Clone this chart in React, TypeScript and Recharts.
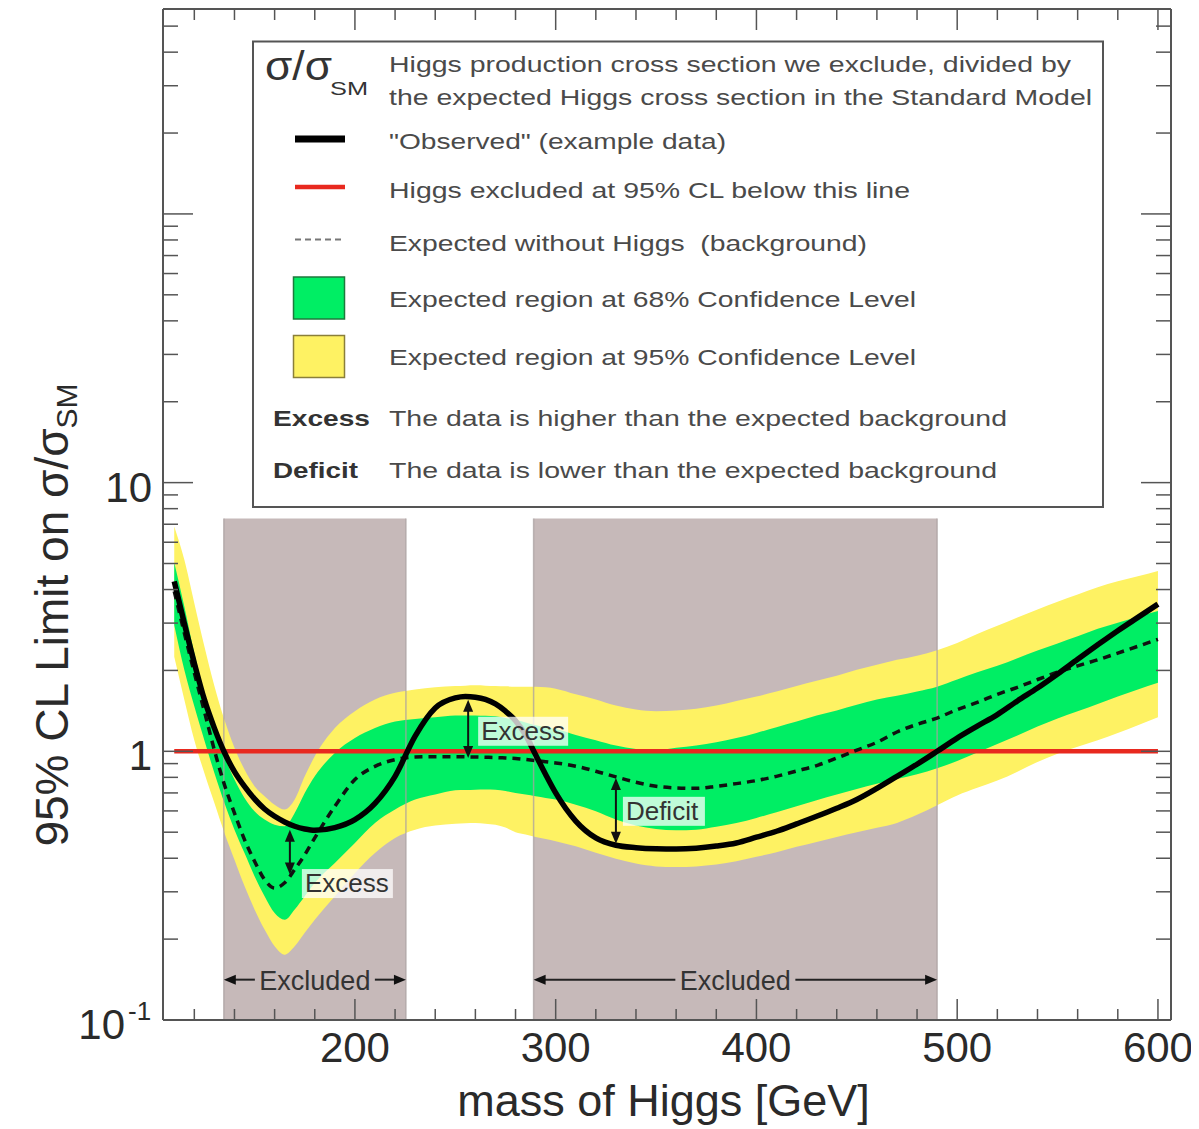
import React from 'react';
import {
  ComposedChart,
  Area,
  Line,
  XAxis,
  YAxis,
  ReferenceArea,
  ReferenceLine,
} from 'recharts';

// mass points (GeV) and the limits read at each of them
const MASS = [
  110, 115, 120, 125, 130, 135, 140, 145, 150, 155, 160, 165, 170, 175, 180,
  190, 200, 210, 220, 230, 240, 250, 255, 260, 265, 270, 275, 280, 285, 290,
  295, 300, 310, 320, 330, 340, 350, 360, 370, 380, 390, 400, 410, 420, 430,
  440, 450, 460, 470, 480, 490, 500, 510, 520, 530, 540, 550, 560, 570, 580,
  590, 600,
];

const OBSERVED = [
  4.29, 3.0, 2.13, 1.56, 1.22, 0.99, 0.84, 0.74, 0.665, 0.61, 0.573, 0.546, 0.526, 0.514, 0.508,
  0.52, 0.557, 0.64, 0.807, 1.14, 1.45, 1.58, 1.6, 1.59, 1.56, 1.5, 1.41, 1.3, 1.15, 0.97,
  0.82, 0.7, 0.55, 0.476, 0.447, 0.438, 0.434, 0.433, 0.436, 0.444, 0.456, 0.479, 0.504, 0.537, 0.573,
  0.614, 0.662, 0.728, 0.807, 0.895, 1.0, 1.12, 1.24, 1.37, 1.54, 1.72, 1.94, 2.2, 2.49, 2.81,
  3.15, 3.53,
];

const EXPECTED = [
  3.94, 2.76, 1.96, 1.41, 1.01, 0.751, 0.589, 0.469, 0.39, 0.333, 0.31, 0.324, 0.363, 0.412, 0.476,
  0.624, 0.785, 0.879, 0.931, 0.952, 0.955, 0.955, 0.954, 0.952, 0.95, 0.948, 0.944, 0.94, 0.932, 0.923,
  0.914, 0.905, 0.88, 0.843, 0.803, 0.767, 0.741, 0.731, 0.728, 0.741, 0.758, 0.778, 0.807, 0.845, 0.885,
  0.944, 1.01, 1.08, 1.18, 1.26, 1.33, 1.43, 1.52, 1.63, 1.73, 1.85, 1.97, 2.08, 2.19, 2.32,
  2.46, 2.61,
];

const BAND68_HIGH = [
  5.04, 3.47, 2.32, 1.65, 1.24, 0.958, 0.785, 0.67, 0.598, 0.557, 0.533, 0.526, 0.59, 0.7, 0.807,
  0.986, 1.12, 1.22, 1.29, 1.32, 1.34, 1.36, 1.36, 1.36, 1.355, 1.35, 1.33, 1.31, 1.28, 1.25,
  1.23, 1.21, 1.15, 1.1, 1.05, 1.02, 1.01, 1.03, 1.05, 1.08, 1.12, 1.17, 1.23, 1.29, 1.36,
  1.42, 1.49, 1.56, 1.61, 1.67, 1.74, 1.85, 1.97, 2.08, 2.22, 2.37, 2.52, 2.68, 2.86, 3.01,
  3.17, 3.33,
];

const BAND68_LOW = [
  2.95, 2.01, 1.47, 1.1, 0.83, 0.642, 0.511, 0.418, 0.343, 0.289, 0.25, 0.236, 0.258, 0.289, 0.324,
  0.384, 0.456, 0.541, 0.607, 0.661, 0.69, 0.716, 0.718, 0.72, 0.721, 0.72, 0.712, 0.7, 0.69, 0.68,
  0.67, 0.661, 0.633, 0.598, 0.557, 0.529, 0.514, 0.508, 0.511, 0.524, 0.541, 0.565, 0.593, 0.624, 0.658,
  0.69, 0.724, 0.758, 0.789, 0.821, 0.865, 0.92, 0.99, 1.065, 1.146, 1.236, 1.325, 1.41, 1.5, 1.6,
  1.7, 1.8,
];

const BAND95_HIGH = [
  6.86, 5.17, 3.56, 2.46, 1.75, 1.31, 1.03, 0.855, 0.741, 0.681, 0.633, 0.607, 0.661, 0.807, 0.958,
  1.22, 1.41, 1.56, 1.65, 1.7, 1.73, 1.75, 1.755, 1.76, 1.755, 1.75, 1.745, 1.74, 1.74, 1.74,
  1.73, 1.71, 1.63, 1.56, 1.48, 1.43, 1.41, 1.42, 1.44, 1.48, 1.54, 1.6, 1.67, 1.75, 1.83,
  1.91, 2.01, 2.1, 2.19, 2.27, 2.38, 2.53, 2.73, 2.93, 3.15, 3.37, 3.6, 3.83, 4.08, 4.29,
  4.48, 4.69,
];

const BAND95_LOW = [
  2.25, 1.56, 1.1, 0.83, 0.642, 0.497, 0.395, 0.315, 0.258, 0.217, 0.188, 0.175, 0.188, 0.211, 0.236,
  0.289, 0.352, 0.418, 0.476, 0.511, 0.529, 0.538, 0.54, 0.541, 0.538, 0.533, 0.52, 0.5, 0.49, 0.48,
  0.472, 0.463, 0.443, 0.419, 0.398, 0.382, 0.373, 0.371, 0.373, 0.379, 0.39, 0.405, 0.421, 0.441, 0.46,
  0.48, 0.5, 0.519, 0.541, 0.58, 0.63, 0.685, 0.731, 0.778, 0.84, 0.913, 0.98, 1.04, 1.1, 1.17,
  1.25, 1.34,
];

const X_TICKS = [
  120, 140, 160, 180, 200, 220, 240, 260, 280, 300, 320, 340, 360, 380, 400,
  420, 440, 460, 480, 500, 520, 540, 560, 580, 600,
];
const X_LABELED = [200, 300, 400, 500, 600];

const Y_TICKS = [
  0.1, 0.2, 0.3, 0.4, 0.5, 0.6, 0.7, 0.8, 0.9,
  1, 2, 3, 4, 5, 6, 7, 8, 9,
  10, 20, 30, 40, 50, 60, 70, 80, 90,
  100, 200, 300, 400, 500,
];
const Y_LABEL_VALUES = [0.1, 1, 10];
const Y_LABEL_BASE = ['10', '1', '10'];
const Y_LABEL_EXP = ['-1', '', ''];

// grey excluded regions
const EXCLUDED_FROM = [134.7, 289];
const EXCLUDED_TO = [225.4, 490];
const EXCLUDED_TOP = 7.35;
const EXCLUDED_ARROW_LEVEL = 0.1413;

// the 95% CL line
const LIMIT_LEVEL = 1;
const LIMIT_FROM = 110;
const LIMIT_TO = 600;

// excess / deficit arrows
const NOTE_LABELS = ['Excess', 'Excess', 'Deficit'];
const NOTE_MASS = [167.6, 256.4, 330];
const NOTE_TOP = [0.511, 1.557, 0.796];
const NOTE_BOTTOM = [0.348, 0.945, 0.453];

const data = MASS.map((m, i) => ({
  mass: m,
  observed: OBSERVED[i],
  expected: EXPECTED[i],
  band68: [BAND68_LOW[i], BAND68_HIGH[i]],
  band95: [BAND95_LOW[i], BAND95_HIGH[i]],
}));

const FONT = '"Liberation Sans", Arial, Helvetica, sans-serif';
const FRAME = '#555';
const INK = '#2a2a2a';
const YELLOW = '#fef263';
const GREEN = '#00ee64';
const GREY = '#c6b9b9';
const RED = '#e8291f';

const X_DOMAIN: [number, number] = [104.4, 606.5];
const Y_DOMAIN: [number, number] = [0.1, 579];

const isDecade = (v: number) =>
  Math.abs(Math.log10(v) - Math.round(Math.log10(v))) < 1e-6;

const BottomTick = (props: any) => {
  const { x, y, payload } = props;
  const major = payload.value % 100 === 0;
  return (
    <g>
      <line x1={x} x2={x} y1={y} y2={y - (major ? 21 : 11)} stroke={FRAME} strokeWidth={1.5} />
      {X_LABELED.includes(payload.value) && (
        <text x={x} y={y + 42} textAnchor="middle" fontSize={42} fill={INK} fontFamily={FONT}>
          {payload.value}
        </text>
      )}
    </g>
  );
};

const TopTick = (props: any) => {
  const { x, y, payload } = props;
  const major = payload.value % 100 === 0;
  return <line x1={x} x2={x} y1={y} y2={y + (major ? 21 : 11)} stroke={FRAME} strokeWidth={1.5} />;
};

const LeftTick = (props: any) => {
  const { x, y, payload } = props;
  const major = isDecade(payload.value);
  const idx = Y_LABEL_VALUES.indexOf(payload.value);
  return (
    <g>
      <line x1={x} x2={x + (major ? 30 : 15)} y1={y} y2={y} stroke={FRAME} strokeWidth={1.5} />
      {idx >= 0 && Y_LABEL_EXP[idx] === '' && (
        <text x={x - 11} y={y + 19} textAnchor="end" fontSize={42} fill={INK} fontFamily={FONT}>
          {Y_LABEL_BASE[idx]}
        </text>
      )}
      {idx >= 0 && Y_LABEL_EXP[idx] !== '' && (
        <text x={x - 38} y={y + 19} textAnchor="end" fontSize={42} fill={INK} fontFamily={FONT}>
          {Y_LABEL_BASE[idx]}
          <tspan x={x - 35} y={y} textAnchor="start" fontSize={26}>
            {Y_LABEL_EXP[idx]}
          </tspan>
        </text>
      )}
    </g>
  );
};

const RightTick = (props: any) => {
  const { x, y, payload } = props;
  const major = isDecade(payload.value);
  return <line x1={x} x2={x - (major ? 30 : 15)} y1={y} y2={y} stroke={FRAME} strokeWidth={1.5} />;
};

const head = (x: number, y: number, dir: string, len = 12, half = 5) => {
  let pts = '';
  if (dir === 'up') pts = `${x},${y} ${x - half},${y + len} ${x + half},${y + len}`;
  if (dir === 'down') pts = `${x},${y} ${x - half},${y - len} ${x + half},${y - len}`;
  if (dir === 'left') pts = `${x},${y} ${x + len},${y - half} ${x + len},${y + half}`;
  if (dir === 'right') pts = `${x},${y} ${x - len},${y - half} ${x - len},${y + half}`;
  return <polygon points={pts} fill="#111" />;
};

// label box placement next to each arrow
const NOTE_STYLE = [
  { dx: 12, dy: 17, w: 91 },
  { dx: 10, dy: -12, w: 90 },
  { dx: 7, dy: -14, w: 82 },
];

const noteShape = (i: number) => (p: any) => {
  const top = Math.min(p.y1, p.y2);
  const bottom = Math.max(p.y1, p.y2);
  const x = p.x1;
  const mid = (top + bottom) / 2;
  const s = NOTE_STYLE[i];
  return (
    <g>
      <line x1={x} x2={x} y1={top + 8} y2={bottom - 8} stroke="#111" strokeWidth={2} />
      {head(x, top, 'up')}
      {head(x, bottom, 'down')}
      <rect x={x + s.dx} y={mid + s.dy} width={s.w} height={29} fill="rgba(255,255,255,0.75)" />
      <text x={x + s.dx + 3} y={mid + s.dy + 23} fontSize={26} fill="#333" fontFamily={FONT}>
        {NOTE_LABELS[i]}
      </text>
    </g>
  );
};

const excludedShape = (p: any) => {
  const left = Math.min(p.x1, p.x2);
  const right = Math.max(p.x1, p.x2);
  const y = p.y1;
  const c = (left + right) / 2;
  const half = 60;
  return (
    <g>
      <line x1={left + 8} x2={c - half} y1={y} y2={y} stroke="#222" strokeWidth={2} />
      <line x1={c + half} x2={right - 8} y1={y} y2={y} stroke="#222" strokeWidth={2} />
      {head(left, y, 'left')}
      {head(right, y, 'right')}
      <text x={c} y={y + 10} textAnchor="middle" fontSize={27} fill="#333" fontFamily={FONT}>
        Excluded
      </text>
    </g>
  );
};

const LegendAndTitles = () => (
  <svg
    width={1191}
    height={1121}
    style={{ position: 'absolute', left: 0, top: 0, overflow: 'visible', pointerEvents: 'none' }}
    fontFamily={FONT}
  >
    <rect x={245} y={33.5} width={850} height={465.5} fill="#fff" stroke={FRAME} strokeWidth={2} />
    <text x={257} y={72} fontSize={40} fill="#333" textLength={67} lengthAdjust="spacingAndGlyphs">
      σ/σ
    </text>
    <text x={322} y={87} fontSize={18} fill="#333" textLength={38} lengthAdjust="spacingAndGlyphs">
      SM
    </text>
    <g fontSize={22} fill="#4a4a4a">
      <text x={381} y={63.5} textLength={682} lengthAdjust="spacingAndGlyphs">
        Higgs production cross section we exclude, divided by
      </text>
      <text x={381} y={96.5} textLength={703} lengthAdjust="spacingAndGlyphs">
        the expected Higgs cross section in the Standard Model
      </text>
      <text x={381} y={141} textLength={337} lengthAdjust="spacingAndGlyphs">
        "Observed" (example data)
      </text>
      <text x={381} y={189.5} textLength={521} lengthAdjust="spacingAndGlyphs">
        Higgs excluded at 95% CL below this line
      </text>
      <text x={381} y={243} textLength={478} lengthAdjust="spacingAndGlyphs" style={{ whiteSpace: 'pre' }}>
        {'Expected without Higgs  (background)'}
      </text>
      <text x={381} y={298.5} textLength={527} lengthAdjust="spacingAndGlyphs">
        Expected region at 68% Confidence Level
      </text>
      <text x={381} y={356.5} textLength={527} lengthAdjust="spacingAndGlyphs">
        Expected region at 95% Confidence Level
      </text>
      <text x={265} y={417.5} fontWeight="bold" fill="#333" textLength={97} lengthAdjust="spacingAndGlyphs">
        Excess
      </text>
      <text x={381} y={417.5} textLength={618} lengthAdjust="spacingAndGlyphs">
        The data is higher than the expected background
      </text>
      <text x={265} y={469.5} fontWeight="bold" fill="#333" textLength={85} lengthAdjust="spacingAndGlyphs">
        Deficit
      </text>
      <text x={381} y={469.5} textLength={608} lengthAdjust="spacingAndGlyphs">
        The data is lower than the expected background
      </text>
    </g>
    <line x1={287} x2={337} y1={131} y2={131} stroke="#000" strokeWidth={7} />
    <line x1={287} x2={337} y1={179} y2={179} stroke={RED} strokeWidth={4.5} />
    <line x1={287} x2={337} y1={231.5} y2={231.5} stroke="#777" strokeWidth={2} strokeDasharray="6 4" />
    <rect x={285.5} y={269} width={51} height={42} fill={GREEN} stroke="#1d7a3c" strokeWidth={1.5} />
    <rect x={285.5} y={327.5} width={51} height={42} fill={YELLOW} stroke="#8a7f3a" strokeWidth={1.5} />

    <text x={655.5} y={1108} textAnchor="middle" fontSize={45} fill={INK}>
      mass of Higgs [GeV]
    </text>
    <text transform="translate(60,607) rotate(-90)" textAnchor="middle" fontSize={46} fill={INK}>
      95% CL Limit on σ/σ
      <tspan fontSize={30} dy={9}>
        SM
      </tspan>
    </text>
  </svg>
);

export default function App() {
  return (
    <div style={{ position: 'relative', width: 1191, height: 1121, fontFamily: FONT }}>
      <ComposedChart
        width={1191}
        height={1121}
        data={data}
        margin={{ top: 0, right: 27, bottom: 0, left: 0 }}
      >
        <XAxis
          dataKey="mass"
          type="number"
          domain={X_DOMAIN}
          allowDataOverflow
          ticks={X_TICKS}
          interval={0}
          tickSize={0}
          tickMargin={0}
          tickLine={false}
          tick={<BottomTick />}
          height={109}
          axisLine={{ stroke: FRAME, strokeWidth: 2 }}
        />
        <XAxis
          xAxisId="top"
          orientation="top"
          dataKey="mass"
          type="number"
          domain={X_DOMAIN}
          allowDataOverflow
          ticks={X_TICKS}
          interval={0}
          tickSize={0}
          tickMargin={0}
          tickLine={false}
          tick={<TopTick />}
          height={1}
          axisLine={{ stroke: FRAME, strokeWidth: 2 }}
        />
        <YAxis
          type="number"
          scale="log"
          domain={Y_DOMAIN}
          allowDataOverflow
          ticks={Y_TICKS}
          interval={0}
          tickSize={0}
          tickMargin={0}
          tickLine={false}
          tick={<LeftTick />}
          width={155}
          axisLine={{ stroke: FRAME, strokeWidth: 2 }}
        />
        <YAxis
          yAxisId="right"
          orientation="right"
          type="number"
          scale="log"
          domain={Y_DOMAIN}
          allowDataOverflow
          ticks={Y_TICKS}
          interval={0}
          tickSize={0}
          tickMargin={0}
          tickLine={false}
          tick={<RightTick />}
          width={1}
          axisLine={{ stroke: FRAME, strokeWidth: 2 }}
        />

        {EXCLUDED_FROM.map((from, i) => (
          <ReferenceArea
            key={`ex-${i}`}
            x1={from}
            x2={EXCLUDED_TO[i]}
            y1={Y_DOMAIN[0]}
            y2={EXCLUDED_TOP}
            fill={GREY}
            fillOpacity={1}
            stroke="none"
          />
        ))}

        <Area
          dataKey="band95"
          type="monotone"
          fill={YELLOW}
          fillOpacity={1}
          stroke="none"
          isAnimationActive={false}
        />
        <Area
          dataKey="band68"
          type="monotone"
          fill={GREEN}
          fillOpacity={1}
          stroke="none"
          isAnimationActive={false}
        />

        {EXCLUDED_FROM.concat(EXCLUDED_TO).map((edge, i) => (
          <ReferenceLine
            key={`edge-${i}`}
            segment={[
              { x: edge, y: Y_DOMAIN[0] },
              { x: edge, y: EXCLUDED_TOP },
            ]}
            stroke="rgba(170,160,160,0.75)"
            strokeWidth={1.5}
          />
        ))}

        <ReferenceLine
          segment={[
            { x: LIMIT_FROM, y: LIMIT_LEVEL },
            { x: LIMIT_TO, y: LIMIT_LEVEL },
          ]}
          stroke={RED}
          strokeWidth={4.5}
        />

        <Line
          dataKey="expected"
          type="monotone"
          stroke="#111"
          strokeWidth={3.5}
          strokeDasharray="8 6"
          dot={false}
          isAnimationActive={false}
        />
        <Line
          dataKey="observed"
          type="monotone"
          stroke="#000"
          strokeWidth={5.5}
          dot={false}
          isAnimationActive={false}
        />

        {NOTE_MASS.map((m, i) => (
          <ReferenceLine
            key={`note-${i}`}
            segment={[
              { x: m, y: NOTE_TOP[i] },
              { x: m, y: NOTE_BOTTOM[i] },
            ]}
            shape={noteShape(i)}
          />
        ))}

        {EXCLUDED_FROM.map((from, i) => (
          <ReferenceLine
            key={`exarrow-${i}`}
            segment={[
              { x: from, y: EXCLUDED_ARROW_LEVEL },
              { x: EXCLUDED_TO[i], y: EXCLUDED_ARROW_LEVEL },
            ]}
            shape={excludedShape}
          />
        ))}
      </ComposedChart>
      <LegendAndTitles />
    </div>
  );
}
